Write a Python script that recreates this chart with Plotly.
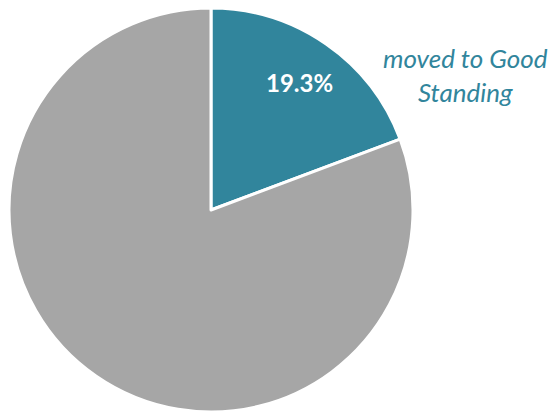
import math
import plotly.graph_objects as go

labels = ["moved to Good Standing", "Other"]
values = [19.3, 80.7]
colors = ["#31859C", "#A6A6A6"]

# page body has an 8px margin; lay out in figure coordinates
OFF = 8
W, H = 556 - OFF, 413 - OFF
cx, cy, r = 211 - OFF, 210 - OFF, 202

fig = go.Figure(go.Pie(
    labels=labels,
    values=values,
    sort=False,
    direction="clockwise",
    rotation=0,
    marker=dict(colors=colors, line=dict(color="white", width=3)),
    textinfo="none",
    showlegend=False,
    hoverinfo="skip",
    domain=dict(x=[max(0, (cx - r) / W), min(1, (cx + r) / W)],
                y=[max(0, 1 - (cy + r) / H), min(1, 1 - (cy - r) / H)]),
))

# percentage label for the first slice, placed along its mid-angle
total = sum(values)
mid = values[0] / total * math.pi  # radians clockwise from 12 o'clock
lr = 0.77 * r
lx = cx + lr * math.sin(mid)
ly = cy - lr * math.cos(mid)
fig.add_annotation(
    x=lx / W, y=1 - ly / H, xref="paper", yref="paper",
    xanchor="center", yanchor="middle",
    text=f"<b>{values[0]:.1f}%</b>", showarrow=False,
    font=dict(family="Lato", size=24, color="white"),
)

fig.add_annotation(
    x=(465 - OFF) / W, y=1 - (75 - OFF) / H, xref="paper", yref="paper",
    xanchor="center", yanchor="middle",
    text="<i>moved to Good<br>Standing</i>",
    showarrow=False, align="center",
    font=dict(family="Lato", size=26, color="#31859C"),
)

fig.update_layout(
    width=W, height=H,
    margin=dict(l=0, r=0, t=0, b=0),
    paper_bgcolor="white", plot_bgcolor="white",
)

fig.write_html("out.html")
